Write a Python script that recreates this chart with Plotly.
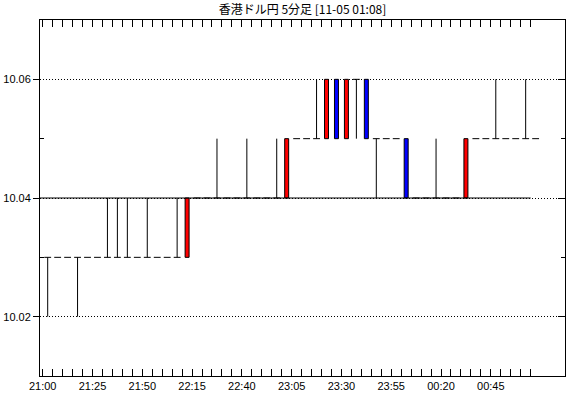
import plotly.graph_objects as go

# ---- data -------------------------------------------------------------
times = ["21:00", "21:05", "21:10", "21:15", "21:20", "21:25", "21:30", "21:35", "21:40", "21:45",
         "21:50", "21:55", "22:00", "22:05", "22:10", "22:15", "22:20", "22:25", "22:30", "22:35",
         "22:40", "22:45", "22:50", "22:55", "23:00", "23:05", "23:10", "23:15", "23:20", "23:25",
         "23:30", "23:35", "23:40", "23:45", "23:50", "23:55", "00:00", "00:05", "00:10", "00:15",
         "00:20", "00:25", "00:30", "00:35", "00:40", "00:45", "00:50", "00:55", "01:00", "01:05"]

opens = [10.03, 10.03, 10.03, 10.03, 10.03, 10.03, 10.03, 10.03, 10.03, 10.03,
         10.03, 10.03, 10.03, 10.03, 10.03, 10.04, 10.04, 10.04, 10.04, 10.04,
         10.04, 10.04, 10.04, 10.04, 10.04, 10.05, 10.05, 10.05, 10.05, 10.06,
         10.05, 10.06, 10.06, 10.05, 10.05, 10.05, 10.05, 10.04, 10.04, 10.04,
         10.04, 10.04, 10.04, 10.05, 10.05, 10.05, 10.05, 10.05, 10.05, 10.05]
highs = [10.03, 10.03, 10.03, 10.03, 10.03, 10.03, 10.04, 10.04, 10.04, 10.03,
         10.04, 10.03, 10.03, 10.04, 10.04, 10.04, 10.04, 10.05, 10.04, 10.04,
         10.05, 10.04, 10.04, 10.05, 10.05, 10.05, 10.05, 10.06, 10.06, 10.06,
         10.06, 10.06, 10.06, 10.05, 10.05, 10.05, 10.05, 10.04, 10.04, 10.05,
         10.04, 10.04, 10.05, 10.05, 10.05, 10.06, 10.05, 10.05, 10.06, 10.05]
lows = [10.02, 10.03, 10.03, 10.02, 10.03, 10.03, 10.03, 10.03, 10.03, 10.03,
        10.03, 10.03, 10.03, 10.03, 10.03, 10.04, 10.04, 10.04, 10.04, 10.04,
        10.04, 10.04, 10.04, 10.04, 10.04, 10.05, 10.05, 10.05, 10.05, 10.05,
        10.05, 10.05, 10.05, 10.04, 10.05, 10.05, 10.04, 10.04, 10.04, 10.04,
        10.04, 10.04, 10.04, 10.05, 10.05, 10.05, 10.05, 10.05, 10.05, 10.05]
closes = [10.03, 10.03, 10.03, 10.03, 10.03, 10.03, 10.03, 10.03, 10.03, 10.03,
          10.03, 10.03, 10.03, 10.03, 10.04, 10.04, 10.04, 10.04, 10.04, 10.04,
          10.04, 10.04, 10.04, 10.04, 10.05, 10.05, 10.05, 10.05, 10.06, 10.05,
          10.06, 10.06, 10.05, 10.05, 10.05, 10.05, 10.04, 10.04, 10.04, 10.04,
          10.04, 10.04, 10.05, 10.05, 10.05, 10.05, 10.05, 10.05, 10.05, 10.05]

ref_level = 10.04                      # solid reference line
y_ticks = [10.02, 10.04, 10.06]
y_minor = [10.03, 10.05]
label_every = 5                        # one time label every 5 bars (25 minutes)
title_text = "香港ドル円 5分足 [11-05 01:08]"

# ---- helpers ----------------------------------------------------------
def to_min(t):
    h, m = map(int, t.split(":"))
    v = h * 60 + m - 21 * 60
    if v < 0:
        v += 24 * 60
    return v

BAR = 5.0
tmin = [to_min(t) for t in times]
xc = [t + BAR / 2 for t in tmin]
X_RANGE = [-1.36, 262.25]
Y_RANGE = [10.01, 10.07]

wx, wy, dx, dy = [], [], [], []
ux, uy, ub, nx, ny, nb = [], [], [], [], [], []
for x, o, h, l, c in zip(xc, opens, highs, lows, closes):
    top, bot = max(o, c), min(o, c)
    if h > top + 1e-9:
        wx += [x, x, None]; wy += [top, h, None]
    if l < bot - 1e-9:
        wx += [x, x, None]; wy += [l, bot, None]
    if abs(o - c) < 1e-9:
        dx += [x - 1.72, x + 1.72, None]; dy += [o, o, None]
    elif c > o:
        ux.append(x); uy.append(c - o); ub.append(o)
    else:
        nx.append(x); ny.append(o - c); nb.append(c)

fig = go.Figure()
fig.add_trace(go.Bar(x=ux, y=uy, base=ub, width=2.0,
                     marker=dict(color="#ff0000", line=dict(color="black", width=1))))
fig.add_trace(go.Bar(x=nx, y=ny, base=nb, width=2.0,
                     marker=dict(color="#0000ff", line=dict(color="black", width=1))))
fig.add_trace(go.Scatter(x=wx, y=wy, mode="lines", line=dict(color="black", width=1)))
fig.add_trace(go.Scatter(x=dx, y=dy, mode="lines", line=dict(color="black", width=1)))
fig.add_trace(go.Scatter(x=[X_RANGE[0], tmin[-1]], y=[ref_level, ref_level], mode="lines",
                         line=dict(color="black", width=1), yaxis="y2"))

tick_font = dict(family="Liberation Sans, Arial, sans-serif", size=11, color="black")

fig.update_layout(
    width=570, height=398,
    margin=dict(l=40, r=5, t=20, b=22, autoexpand=False),
    paper_bgcolor="white", plot_bgcolor="white",
    showlegend=False, hovermode=False, barmode="overlay",
    title=dict(text=title_text, x=0.5, xref="paper", xanchor="center",
               y=1 - 10 / 398, yanchor="middle",
               font=dict(family="Noto Sans CJK JP", size=12, color="black")),
    xaxis=dict(range=X_RANGE, tickmode="array", tickvals=tmin,
               ticktext=[t if i % label_every == 0 else "" for i, t in enumerate(times)],
               ticks="inside", ticklen=7, tickcolor="black", tickwidth=1,
               showline=True, linecolor="black", linewidth=1, mirror="ticks",
               showgrid=False, zeroline=False, tickfont=tick_font, automargin=False),
    yaxis=dict(range=Y_RANGE, tickmode="array", tickvals=y_ticks,
               ticktext=[f"{v:.2f}" for v in y_ticks],
               ticks="outside", ticklen=6, tickcolor="black", tickwidth=1,
               showline=True, linecolor="black", linewidth=1,
               showgrid=True, gridcolor="black", gridwidth=1, griddash="1px,2px",
               minor=dict(tickmode="array", tickvals=y_minor, ticks="inside", ticklen=4,
                          tickcolor="black", showgrid=False),
               zeroline=False, tickfont=tick_font, automargin=False),
    yaxis2=dict(range=Y_RANGE, overlaying="y", side="right", anchor="x",
                tickmode="array", tickvals=y_ticks, showticklabels=False,
                ticks="inside", ticklen=7, tickcolor="black",
                showline=True, linecolor="black", linewidth=1,
                minor=dict(tickmode="array", tickvals=y_minor, ticks="inside", ticklen=4,
                           tickcolor="black", showgrid=False),
                showgrid=False, zeroline=False, automargin=False),
)

fig.write_html("out.html", config=dict(displayModeBar=False))
